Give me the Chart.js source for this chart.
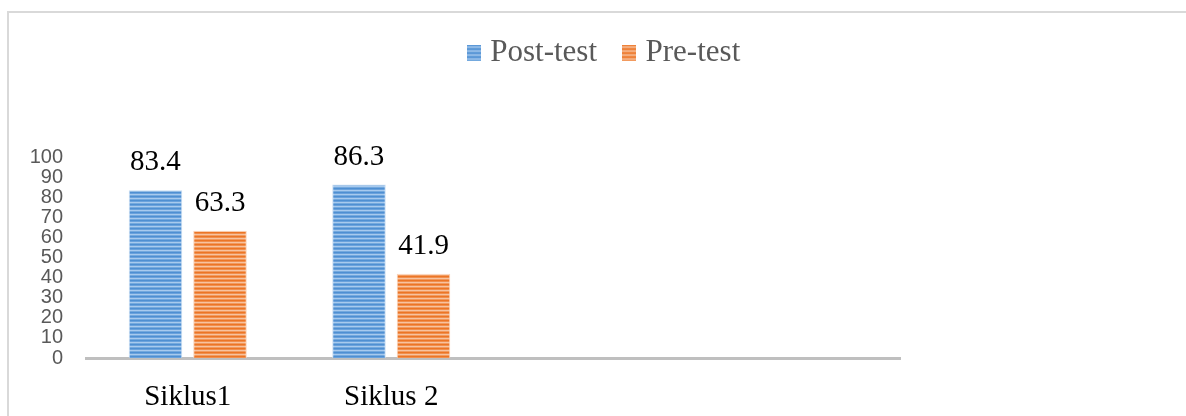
<!DOCTYPE html>
<html lang="id">
<head>
  <meta charset="UTF-8">
  <title></title>
  <script src="https://cdn.jsdelivr.net/npm/chart.js@4"></script>
  <style>
    body { margin: 0; background: #fff; }
    #frame { position: absolute; left: 7px; top: 11px; width: 1200px; height: 420px;
      border-top: 2px solid #d9d9d9; border-left: 2px solid #d9d9d9; }
    #wrap { position: absolute; left: 0; top: 0; width: 1186px; height: 416px; }
  </style>
</head>
<script>
  // data
  const categories = ["Siklus1", "Siklus 2", "", ""];
  const postTest = [83.4, 86.3, null, null];
  const preTest = [63.3, 41.9, null, null];
  const yTicks = [0, 10, 20, 30, 40, 50, 60, 70, 80, 90, 100];

  const blueRows = ["#4f8fd2", "#6aa2dc", "#a8caee", "#74a9de"];
  const orangeRows = ["#ec7526", "#f08f4e", "#f7c3a0", "#f29a5e"];

  // striped tile like the office "horizontal" pattern
  function stripeCanvas(rows, w, h) {
    const c = document.createElement("canvas");
    c.width = w; c.height = h;
    const g = c.getContext("2d");
    for (let y = 0; y < h; y++) { g.fillStyle = rows[y % rows.length]; g.fillRect(0, y, w, 1); }
    return c;
  }
  function stripes(rows) {
    return document.createElement("canvas").getContext("2d")
      .createPattern(stripeCanvas(rows, 8, rows.length), "repeat");
  }

  // value text above each bar
  const valueLabels = {
    id: "valueLabels",
    afterDatasetsDraw(chart) {
      const ctx = chart.ctx;
      ctx.save();
      ctx.font = "29px 'Liberation Serif'";
      ctx.fillStyle = "#000";
      ctx.textAlign = "center";
      ctx.textBaseline = "alphabetic";
      chart.data.datasets.forEach((ds, i) => {
        chart.getDatasetMeta(i).data.forEach((bar, j) => {
          if (ds.data[j] == null) return;
          ctx.fillText(String(ds.data[j]), bar.x, bar.y - 20);
        });
      });
      ctx.restore();
    }
  };

  // legend: fixed height so the plot starts lower, and centred over the whole frame
  const legendFix = {
    id: "legendFix",
    afterInit(chart) {
      const lg = chart.legend;
      const fit = lg.fit.bind(lg);
      lg.fit = function () { fit(); this.height = 151; };
    },
    afterLayout(chart) {
      const lg = chart.legend;
      lg.left = 0; lg.right = 1213; lg.width = 1213;
    }
  };

  window.onload = () => {
    const blue = stripes(blueRows);
    const orange = stripes(orangeRows);
    const blueKey = stripeCanvas(blueRows, 14, 16);
    const orangeKey = stripeCanvas(orangeRows, 14, 16);

    new Chart(document.getElementById("chart"), {
      type: "bar",
      data: {
        labels: categories,
        datasets: [
          { label: "Post-test", data: postTest, backgroundColor: blue,
            borderColor: "#c9ddf2", borderWidth: 1, key: blueKey,
            categoryPercentage: 0.634, barPercentage: 0.83 },
          { label: "Pre-test", data: preTest, backgroundColor: orange,
            borderColor: "#f9d2b8", borderWidth: 1, key: orangeKey,
            categoryPercentage: 0.634, barPercentage: 0.83 }
        ]
      },
      options: {
        responsive: false,
        animation: false,
        events: [],
        layout: { padding: { left: 10, right: 286, top: 6, bottom: 0 } },
        plugins: {
          legend: {
            position: "top",
            labels: {
              font: { family: "'Liberation Serif'", size: 31 },
              color: "#595959",
              usePointStyle: true,
              pointStyleWidth: 2,
              padding: 31,
              generateLabels(chart) {
                return chart.data.datasets.map((ds, i) => ({
                  text: ds.label, pointStyle: ds.key, fontColor: "#595959",
                  fillStyle: ds.backgroundColor, strokeStyle: "rgba(0,0,0,0)",
                  lineWidth: 0, datasetIndex: i
                }));
              }
            }
          },
          tooltip: { enabled: false }
        },
        scales: {
          x: {
            afterFit(s) { s.height = 58; },
            grid: { display: false, drawTicks: false },
            border: { color: "#bfbfbf", width: 3 },
            ticks: { font: { family: "'Liberation Serif'", size: 29 }, color: "#000", padding: 22 }
          },
          y: {
            min: 0, max: 100,
            afterFit(s) { s.width = 76; },
            afterBuildTicks(s) { s.ticks = yTicks.map(v => ({ value: v })); },
            grid: { display: false, drawTicks: false },
            border: { display: false },
            ticks: { font: { family: "'Liberation Sans'", size: 20 }, color: "#595959",
              padding: 23, autoSkip: false }
          }
        }
      },
      plugins: [valueLabels, legendFix]
    });
  };
</script>
<body>
  <div id="frame"></div>
  <div id="wrap"><canvas id="chart" width="1186" height="416"></canvas></div>
</body>
</html>
